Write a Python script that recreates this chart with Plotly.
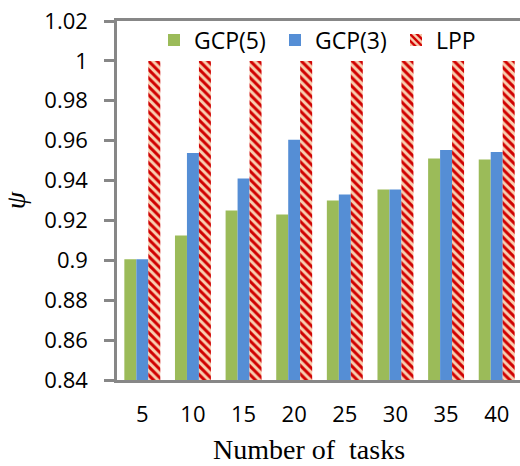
import plotly.graph_objects as go

categories = ["5", "10", "15", "20", "25", "30", "35", "40"]
gcp5 = [0.9005, 0.9125, 0.925, 0.923, 0.930, 0.9355, 0.951, 0.9505]
gcp3 = [0.9005, 0.9538, 0.941, 0.9605, 0.933, 0.9355, 0.9553, 0.9543]
lpp = [1.0, 1.0, 1.0, 1.0, 1.0, 1.0, 1.0, 1.0]
y_ticks = [0.84, 0.86, 0.88, 0.9, 0.92, 0.94, 0.96, 0.98, 1.0, 1.02]
y_ticktext = ["0.84", "0.86", "0.88", "0.9", "0.92", "0.94", "0.96", "0.98", "1", "1.02"]

fig = go.Figure()
fig.add_trace(go.Bar(name="GCP(5)", x=categories, y=gcp5, marker=dict(color="#9BBB59", line=dict(width=0))))
fig.add_trace(go.Bar(name="GCP(3)", x=categories, y=gcp3, marker=dict(color="#558ED5", line=dict(width=0))))
fig.add_trace(go.Bar(name="LPP", x=categories, y=lpp,
                     marker=dict(color="#F9CFB0", line=dict(width=0),
                                 pattern=dict(shape="\\", fgcolor="#D00000", bgcolor="#F9CFB0",
                                              size=6, solidity=0.5, fillmode="replace"))))

L, T, B = 117, 21, 86
W = 520 - L
H = 466 - T - B
fig.update_layout(
    width=520, height=466,
    margin=dict(l=L, r=0, t=T, b=B),
    paper_bgcolor="white", plot_bgcolor="white",
    barmode="group", bargap=0.29, bargroupgap=0,
    font=dict(family="Open Sans", size=22, color="black"),
    showlegend=True,
    legend=dict(orientation="h", x=(154 - L) / W, y=1 - (40 - T) / H, xanchor="left", yanchor="middle",
                font=dict(size=23), bgcolor="rgba(0,0,0,0)",
                entrywidth=76, entrywidthmode="pixels", itemwidth=30),
    xaxis=dict(
        type="category", range=[-0.5, 7.46], automargin=False,
        showline=True, linecolor="#878787", linewidth=2.5, mirror=True,
        ticks="", showgrid=False, tickfont=dict(size=22), ticklabelstandoff=13,
    ),
    yaxis=dict(
        range=[0.84, 1.02], tickvals=y_ticks, ticktext=y_ticktext, automargin=False,
        showline=True, linecolor="#878787", linewidth=2.5,
        ticks="outside", ticklen=10, tickcolor="#878787", tickwidth=2.5,
        ticklabelstandoff=12, ticklabeloverflow="allow",
        showgrid=False, zeroline=False, tickfont=dict(size=22),
        title=dict(text="<i>ψ</i>", font=dict(family="Liberation Serif", size=28), standoff=12),
    ),
    annotations=[dict(text="Number of  tasks", xref="paper", yref="paper",
                      x=(309 - L) / W, y=-(449 - (466 - B)) / H,
                      xanchor="center", yanchor="middle", showarrow=False,
                      font=dict(family="Liberation Serif", size=28, color="black"))],
)

fig.write_html("out.html", config={"displayModeBar": False},
               post_script="document.body.style.margin='0px';")
